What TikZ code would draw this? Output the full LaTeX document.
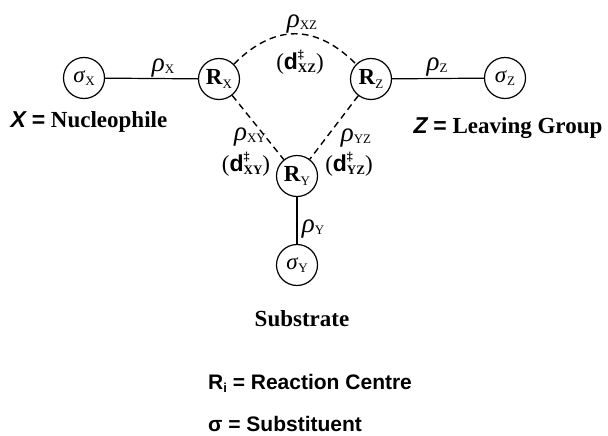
\documentclass[tikz,border=0pt]{standalone}
\usepackage{fontspec}
\setmainfont{Liberation Serif}
\setsansfont{Liberation Sans}
\newcommand\sbx[1]{\raisebox{-0.35ex}{\fontsize{13}{13}\selectfont #1}}
\newcommand\dlab[1]{{\fontsize{23}{23}\selectfont(\textsf{\bfseries d}\makebox[0pt][l]{\raisebox{1.05ex}{\fontsize{12}{12}\selectfont\bfseries ‡}}\sbx{\bfseries #1})}}
\newcommand\rholab[1]{{\fontsize{27}{27}\selectfont\itshape ρ}\sbx{#1}}
\begin{document}
\begin{tikzpicture}[x=1pt,y=-1pt,
  ctr/.style={circle,draw,line width=1.2pt,minimum size=41pt,inner sep=0pt,font=\fontsize{23}{23}\selectfont},
  bond/.style={line width=1.2pt},
  dbond/.style={line width=1.4pt,dash pattern=on 6.5pt off 4.5pt},
  lab/.style={inner sep=0pt},
  serlab/.style={inner sep=0pt,font=\fontsize{23}{23}\selectfont\bfseries},
  sanlab/.style={inner sep=0pt,anchor=base west,font=\fontsize{21}{21}\selectfont\sffamily\bfseries}]
\useasboundingbox (0,0) rectangle (608,436);
\node[ctr] (sx) at (84,78) {\textit{σ}\sbx{X}};
\node[ctr] (rx) at (219,79) {\textbf{R}\sbx{X}};
\node[ctr] (rz) at (371,79) {\textbf{R}\sbx{Z}};
\node[ctr] (sz) at (505,78) {\textit{σ}\sbx{Z}};
\node[ctr] (ry) at (297,176) {\textbf{R}\sbx{Y}};
\node[ctr] (sy) at (297,265) {\textit{σ}\sbx{Y}};
\draw[bond] (sx) -- (rx);
\draw[bond] (rz) -- (sz);
\draw[bond] (ry) -- (sy);
\draw[dbond] (rx) -- (ry);
\draw[dbond] (rz) -- (ry);
\draw[dbond] (rx) to[out=45,in=135,looseness=1.2] (rz);
\node[lab] (lx) at (163,68) {\rholab{X}};
\node[lab] (lxz) at (302,24) {\rholab{XZ}};
\node[lab] (dxz) at (300,62) {\dlab{XZ}};
\node[lab] (lxy) at (250,137) {\rholab{XY}};
\node[lab] (dxy) at (246,164) {\dlab{XY}};
\node[lab] (lyz) at (356,138) {\rholab{YZ}};
\node[lab] (dyz) at (349,164) {\dlab{YZ}};
\node[lab] (lz) at (437,67) {\rholab{Z}};
\node[lab] (ly) at (313,229) {\rholab{Y}};
\node[serlab] (nuc) at (89,122) {{\sffamily\itshape X} {\sffamily =} Nucleophile};
\node[serlab] (lg) at (508,128) {{\sffamily\itshape Z} {\sffamily =} Leaving Group};
\node[serlab] (sub) at (302,319) {Substrate};
\node[sanlab] (rc) at (208,389) {R\sbx{i} = Reaction Centre};
\node[sanlab] (st) at (208,431) {σ = Substituent};
\end{tikzpicture}
\end{document}
